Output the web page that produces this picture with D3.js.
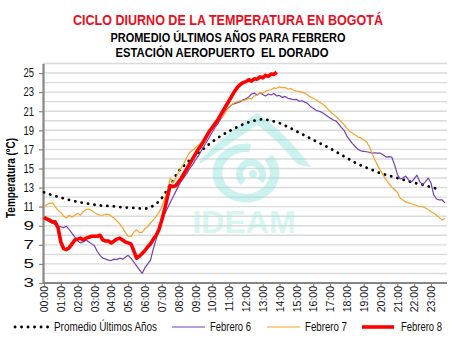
<!DOCTYPE html>
<html>
<head>
<meta charset="utf-8">
<script src="https://cdn.jsdelivr.net/npm/d3@7"></script>
<style>
  body { margin: 0; background: #fff; }
  text { font-family: "Liberation Sans", Arial, sans-serif; }
</style>
</head>
<body>
<div id="chart"></div>
<script>
// hourly labels on the category axis (one every 6 ten-minute steps)
const horas = ["00:00","01:00","02:00","03:00","04:00","05:00","06:00","07:00","08:00","09:00","10:00","11:00",
               "12:00","13:00","14:00","15:00","16:00","17:00","18:00","19:00","20:00","21:00","22:00","23:00"];
const yTicks = [3, 5, 7, 9, 11, 13, 15, 17, 19, 21, 23, 25];

// multi-year February mean, every 30 minutes
const promedio = [12.5, 12.2, 11.95, 11.7, 11.5, 11.35, 11.2, 11.1, 11.05, 10.95, 10.9, 10.85,
                  10.8, 11.1, 11.9, 13.3, 14.7, 15.6, 16.4, 17.1, 17.8, 18.4, 18.9, 19.35,
                  19.75, 20.0, 20.15, 20.0, 19.75, 19.35, 18.9, 18.45, 18.0, 17.55, 17.1, 16.6,
                  16.1, 15.6, 15.2, 14.85, 14.5, 14.25, 14.0, 13.75, 13.5, 13.3, 13.05, 12.8];

// ten-minute readings
const febrero6 = [9.7, 9.6, 9.4, 9.3, 9.1, 8.9, 8.9, 8.8, 8.95, 8.6, 8.2, 7.8,
                  7.4, 7.2, 7.3, 7.5, 7.3, 7.1, 6.9, 6.3, 5.9, 5.6, 5.5, 5.4,
                  5.35, 5.5, 5.45, 5.6, 5.5, 5.7, 5.9, 5.6, 5.2, 4.8, 4.4, 4.0,
                  4.6, 5.0, 5.4, 6.6, 7.6, 8.5, 9.4, 10.2, 10.8, 11.4, 12.0, 12.6,
                  13.2, 13.7, 14.1, 14.5, 15.0, 15.4, 15.9, 16.3, 16.8, 17.3, 17.8, 18.3,
                  18.8, 19.3, 19.7, 20.2, 20.6, 21.1, 21.4, 21.7, 21.8, 21.9, 22.0, 22.2,
                  22.3, 22.5, 22.8, 22.9, 22.7, 22.9, 22.75, 22.6, 22.8, 22.7, 22.85, 22.6,
                  22.65, 22.45, 22.55, 22.35, 22.3, 22.2, 22.25, 22.05, 22.1, 21.95, 21.8, 21.5,
                  21.3, 21.1, 21.0, 20.9, 20.7, 20.5, 20.3, 20.1, 20.0, 19.7, 19.3, 19.0,
                  18.4, 18.0, 17.6, 17.3, 17.0, 16.85, 16.8, 16.75, 16.7, 16.6, 16.65, 16.6,
                  16.6, 16.4, 16.2, 16.25, 16.2, 15.4, 14.4, 13.9, 14.0, 14.2, 13.8, 13.6,
                  13.9, 14.3, 13.6, 13.3, 13.6, 14.0, 13.5, 12.2, 11.8, 11.7, 11.7, 11.4];

const febrero7 = [11.0, 11.2, 11.35, 11.4, 11.0, 10.6, 10.4, 10.0, 9.8, 10.1, 9.9, 10.1,
                  10.3, 10.1, 10.5, 10.7, 10.75, 10.6, 10.4, 10.2, 10.1, 10.1, 10.2, 10.2,
                  10.0, 9.8, 9.5, 9.2, 8.8, 8.3, 7.9, 7.85, 8.3, 8.6, 8.3, 8.3,
                  8.7, 8.9, 9.3, 9.6, 10.0, 10.4, 11.0, 11.8, 12.6, 14.0, 13.45, 14.0,
                  14.6, 15.1, 15.6, 16.2, 16.7, 16.9, 17.2, 17.4, 17.7, 18.0, 18.4, 18.8,
                  19.1, 19.5, 19.9, 20.3, 20.6, 21.0, 21.4, 21.7, 21.9, 22.0, 22.1, 22.1,
                  22.2, 22.35, 22.3, 22.6, 22.7, 22.95, 22.9, 23.1, 23.2, 23.25, 23.45, 23.4,
                  23.55, 23.45, 23.5, 23.3, 23.4, 23.2, 23.1, 23.05, 23.0, 22.9, 22.7, 22.5,
                  22.35, 22.2, 22.0, 21.8, 21.6, 21.3, 21.0, 20.7, 20.5, 20.2, 19.9, 19.6,
                  19.2, 18.9, 18.7, 18.5, 18.3, 18.2, 18.0, 17.8, 17.3, 16.6, 15.9, 15.3,
                  14.8, 14.3, 13.8, 13.4, 13.05, 12.8, 12.5, 11.9, 11.7, 11.5, 11.4, 11.3,
                  11.2, 11.1, 11.0, 11.0, 10.85, 10.7, 10.5, 10.3, 10.1, 9.85, 9.6, 9.75];

const febrero8 = [9.9, 9.7, 9.6, 9.4, 9.4, 8.8, 7.3, 6.6, 6.5, 6.7, 7.1, 7.5,
                  7.6, 7.7, 7.5, 7.7, 7.8, 7.9, 7.9, 7.9, 8.0, 7.5, 7.4, 7.4,
                  7.2, 7.4, 7.6, 7.7, 7.5, 7.3, 7.2, 7.1, 6.4, 5.6, 5.8, 6.1,
                  6.4, 6.8, 7.1, 7.6, 8.0, 8.6, 9.6, 10.7, 12.0, 13.2, 13.1, 13.2,
                  13.6, 14.0, 14.5, 15.0, 15.5, 16.0, 16.5, 17.0, 17.4, 17.9, 18.4, 18.9,
                  19.3, 19.7, 20.1, 20.6, 21.1, 21.6, 22.1, 22.6, 23.1, 23.5, 23.8, 24.0,
                  24.1, 24.3, 24.15, 24.4, 24.35, 24.6, 24.5, 24.75, 24.65, 24.9, 24.85, 25.1];

const series = [
    { name: "Promedio Últimos Años", values: promedio, step: 3, color: "#000", width: 2.8, dash: "0.1,6.4", label: 103 },
    { name: "Febrero 6", values: febrero6, step: 1, color: "#7340b0", width: 1.2, label: 41 },
    { name: "Febrero 7", values: febrero7, step: 1, color: "#f5a428", width: 1.2, label: 42 },
    { name: "Febrero 8", values: febrero8, step: 1, color: "#ff0000", width: 3.6, label: 41 }
];

const width = 454;
const height = 341;
const plot = { left: 43, right: 447, top: 63.5, bottom: 283 };

const svg = d3.select("#chart")
    .append("svg")
    .attr("width", width)
    .attr("height", height)
    .style("background", "#fff");

const x = d3.scaleLinear().domain([0, 143]).range([44, 445]);
const y = d3.scaleLinear().domain([3, 26]).range([plot.bottom, plot.top]);

// titles (narrow face squeezed to its width)
const title = (txt, ty, size, len, color) => svg.append("text")
    .attr("x", 228).attr("y", ty)
    .attr("text-anchor", "middle")
    .attr("fill", color)
    .attr("textLength", len)
    .attr("lengthAdjust", "spacingAndGlyphs")
    .style("font-size", size).style("font-weight", "bold")
    .text(txt);

title("CICLO DIURNO DE LA TEMPERATURA EN BOGOTÁ", 25, "15.5px", 310, "#e8101e");
title("PROMEDIO ÚLTIMOS AÑOS PARA FEBRERO", 42, "12.5px", 235, "#000");
title("ESTACIÓN AEROPUERTO  EL DORADO", 57, "12.5px", 213, "#000").attr("x", 222).style("white-space", "pre");

// minor gridlines every degree
svg.append("g")
    .selectAll("line")
    .data(d3.range(4, 27))
    .join("line")
    .attr("x1", plot.left).attr("x2", plot.right)
    .attr("y1", d => y(d)).attr("y2", d => y(d))
    .attr("stroke", "#dadada")
    .attr("stroke-width", 1.4);

// IDEAM watermark
const wm = svg.append("g").attr("opacity", 0.45);
wm.append("path")
    .attr("d", "M200,160 Q230,130 257,113 Q285,132 311,167 Q301,166 296,163 Q276,138 257,125 Q232,142 200,164 Z")
    .attr("fill", "#8fe3dc");
wm.append("path")
    .attr("d", d3.arc()({ innerRadius: 22, outerRadius: 31, startAngle: 0.9, endAngle: 2 * Math.PI + 0.15 }))
    .attr("transform", "translate(246,173) scale(1.08,0.95)")
    .attr("fill", "#8fe3dc");
wm.append("path")
    .attr("d", d3.arc()({ innerRadius: 8, outerRadius: 15, startAngle: -2.4, endAngle: 2.2 }))
    .attr("transform", "translate(251,174)")
    .attr("fill", "#8fe3dc");
wm.append("circle").attr("cx", 253).attr("cy", 174).attr("r", 4).attr("fill", "#8fe3dc");
wm.append("text")
    .attr("x", 244).attr("y", 233)
    .attr("text-anchor", "middle")
    .attr("fill", "#a8ece3")
    .style("font-size", "32px").style("font-weight", "bold")
    .text("IDEAM");

// axes
const yAxis = svg.append("g")
    .attr("transform", `translate(${plot.left},0)`)
    .call(d3.axisLeft(y).tickValues(yTicks).tickSize(4).tickSizeOuter(0).tickPadding(5));

const xAxis = svg.append("g")
    .attr("transform", `translate(0,${plot.bottom})`)
    .call(d3.axisBottom(x).tickValues(d3.range(0, 144, 6)).tickFormat(d => horas[d / 6]).tickSize(3).tickSizeOuter(0));

[yAxis, xAxis].forEach(a => {
    a.select(".domain").attr("stroke", "#868686").attr("stroke-width", 2.2);
    a.selectAll(".tick line").attr("stroke", "#868686").attr("stroke-width", 1.2);
    a.selectAll("text").attr("fill", "#111")
        .style("font-family", "'Liberation Sans', Arial, sans-serif");
});
xAxis.select(".domain").attr("d", `M${plot.left},0H${plot.right}`);

yAxis.selectAll("text")
    .attr("textLength", 10.5)
    .attr("lengthAdjust", "spacingAndGlyphs")
    .style("font-size", "12px");

xAxis.selectAll("text")
    .attr("transform", "rotate(-90)")
    .attr("text-anchor", "end")
    .attr("x", -3)
    .attr("y", 0)
    .attr("dy", "0.35em")
    .style("font-size", "10.5px");

svg.append("text")
    .attr("transform", "translate(15,178) rotate(-90)")
    .attr("text-anchor", "middle")
    .attr("textLength", 80)
    .attr("lengthAdjust", "spacingAndGlyphs")
    .style("font-size", "12.5px").style("font-weight", "bold")
    .text("Temperatura (ºC)");

// series
const path = s => {
    const gen = d3.line().x((d, i) => x(i * s.step)).y(d => y(d));
    if (s.step > 1) gen.curve(d3.curveMonotoneX);
    return gen(s.values);
};

svg.append("g")
    .selectAll("path")
    .data(series)
    .join("path")
    .attr("d", path)
    .attr("fill", "none")
    .attr("stroke", d => d.color)
    .attr("stroke-width", d => d.width)
    .attr("stroke-linecap", d => d.dash ? "round" : "butt")
    .attr("stroke-linejoin", "round")
    .attr("stroke-dasharray", d => d.dash || null);

// legend
const legendPos = [
    { x1: 15, x2: 50, tx: 54 },
    { x1: 172, x2: 205, tx: 210 },
    { x1: 267, x2: 300, tx: 305 },
    { x1: 362, x2: 394, tx: 401 }
];
const legend = svg.append("g");
series.forEach((s, i) => {
    const p = legendPos[i];
    legend.append("line")
        .attr("x1", p.x1).attr("x2", p.x2)
        .attr("y1", 327).attr("y2", 327)
        .attr("stroke", s.color)
        .attr("stroke-width", s.width)
        .attr("stroke-linecap", s.dash ? "round" : "butt")
        .attr("stroke-dasharray", s.dash || null);
    legend.append("text")
        .attr("x", p.tx).attr("y", 331)
        .attr("textLength", s.label)
        .attr("lengthAdjust", "spacingAndGlyphs")
        .style("font-size", "12px")
        .attr("fill", "#111")
        .text(s.name);
});
</script>
</body>
</html>
